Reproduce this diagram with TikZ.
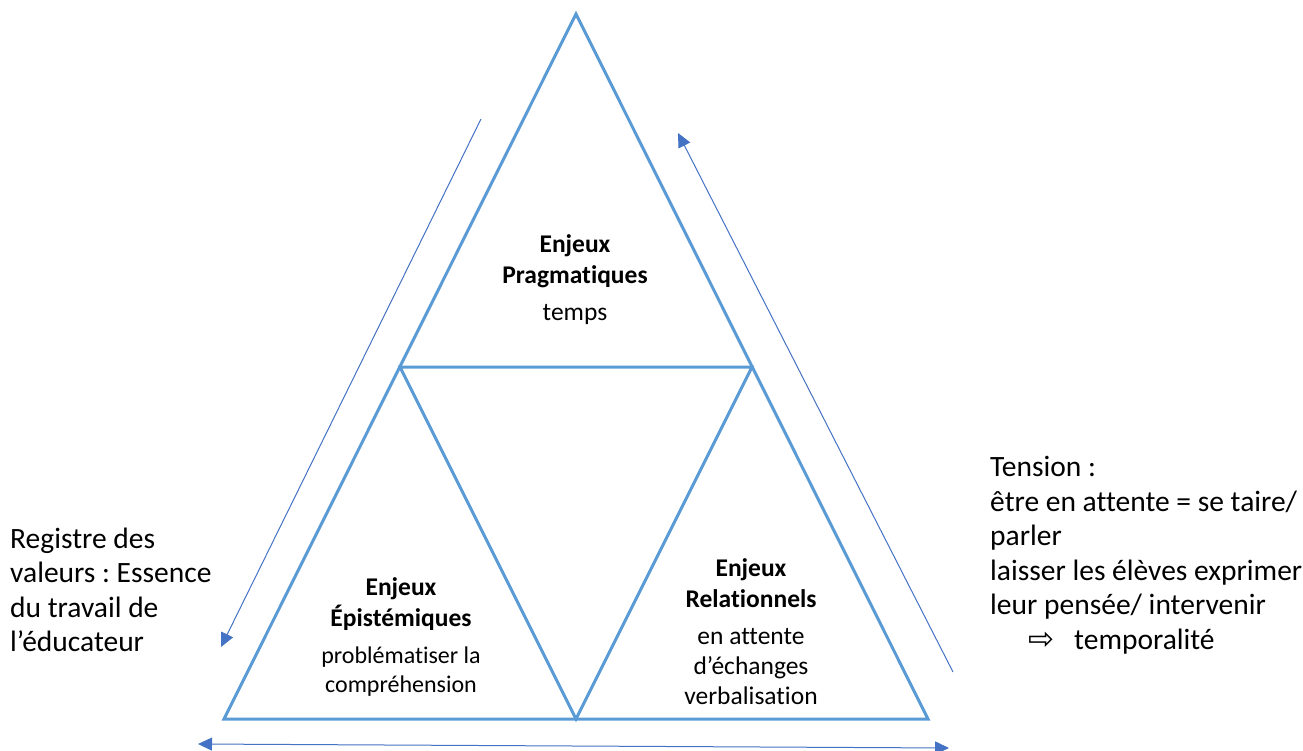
\documentclass[tikz,border=0pt]{standalone}
\usepackage{fontspec}
\setmainfont[Ligatures=NoCommon]{Carlito}
\newfontfamily\dejavu{DejaVu Sans}
\usetikzlibrary{arrows.meta}
\definecolor{triblue}{HTML}{5B9BD5}
\definecolor{arrblue}{HTML}{4472C4}
\frenchspacing
\begin{document}
\begin{tikzpicture}[x=1pt,y=-1pt,
  tri/.style={draw=triblue,line width=3pt,line join=miter},
  arr/.style={draw=arrblue,line width=1pt,-{Triangle[length=14pt,width=13pt]}},
  darr/.style={draw=arrblue,line width=1pt,{Triangle[length=14pt,width=13pt]}-{Triangle[length=14pt,width=13pt]}},
  inner/.style={align=center,inner sep=0pt,font=\fontsize{25.5}{31}\selectfont},
  outer/.style={align=left,inner sep=0pt,font=\fontsize{29.5}{34.5}\selectfont}]
\useasboundingbox (0,0) rectangle (1303,751);
\coordinate (A) at (576,14);
\coordinate (L) at (224,719);
\coordinate (R) at (928,719);
\coordinate (ML) at (400,367);
\coordinate (MR) at (752,367);
\coordinate (MB) at (576,719);
\draw[tri] (A) -- (L) -- (R) -- cycle;
\draw[tri] (ML) -- (MR) -- (MB) -- cycle;
\coordinate (la1) at (481,119);
\coordinate (la2) at (221,647);
\coordinate (ra1) at (953,672);
\coordinate (ra2) at (678,133);
\coordinate (ba1) at (198,744);
\coordinate (ba2) at (949,748);
\draw[arr] (la1) -- (la2);
\draw[arr] (ra1) -- (ra2);
\draw[darr] (ba1) -- (ba2);
\node[inner] (prag) at (575,280) {\textbf{Enjeux}\\\textbf{Pragmatiques}\\[6pt]temps};
\node[inner] (epis) at (401,637) {\textbf{Enjeux}\\\textbf{Épistémiques}\\[6pt]{\fontsize{24}{29}\selectfont problématiser la}\\[-2pt]{\fontsize{24}{29}\selectfont compréhension}};
\node[inner] (rel) at (751,632) {\textbf{Enjeux}\\\textbf{Relationnels}\\[6pt]en attente\\[-1pt]d’échanges\\[-1pt]verbalisation};
\node[outer,anchor=west] (reg) at (10,590) {Registre des\\valeurs : Essence\\du travail de\\l’éducateur};
\node[outer,anchor=west] (ten) at (990,555) {Tension :\\être en attente = se taire/\\parler\\laisser les élèves exprimer\\leur pensée/ intervenir\\\hspace*{38pt}{\dejavu\fontsize{23}{23}\selectfont\scalebox{1.35}{⇨}}\hspace{20pt}temporalité};
\end{tikzpicture}
\end{document}
